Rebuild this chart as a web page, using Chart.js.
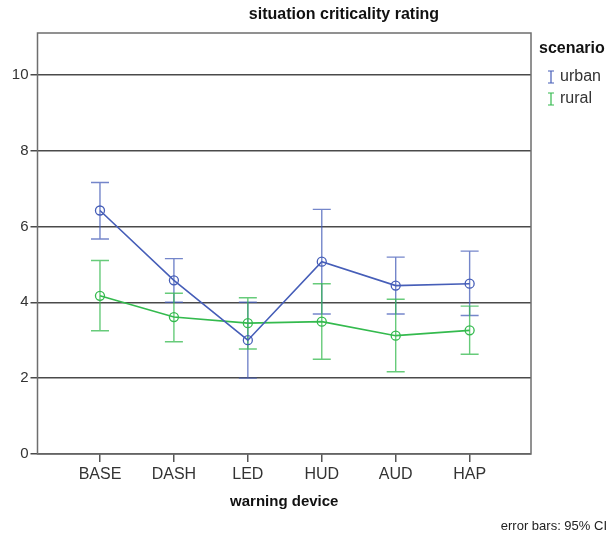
<!DOCTYPE html>
<html>
<head>
<meta charset="utf-8">
<script src="https://cdn.jsdelivr.net/npm/chart.js@4/dist/chart.umd.min.js"></script>
<style>
  html, body { margin: 0; padding: 0; background: #fff; }
</style>
</head>
<body>
<canvas id="chart" width="611" height="536"></canvas>
<script>
// warning device categories and the per-scenario means with 95% CI bounds
const devices = ['BASE', 'DASH', 'LED', 'HUD', 'AUD', 'HAP'];
const urbanMean = [6.42, 4.58, 3.00, 5.07, 4.44, 4.49];
const urbanLow  = [5.67, 4.00, 2.00, 3.69, 3.69, 3.65];
const urbanHigh = [7.16, 5.15, 4.00, 6.45, 5.19, 5.35];
const ruralMean = [4.17, 3.61, 3.45, 3.49, 3.12, 3.26];
const ruralLow  = [3.25, 2.96, 2.77, 2.50, 2.17, 2.63];
const ruralHigh = [5.10, 4.24, 4.12, 4.49, 4.08, 3.90];
const yTicks = [0, 2, 4, 6, 8, 10];

const FONT = '"Liberation Sans", Arial, sans-serif';
const URBAN = 'rgb(70, 94, 184)';
const RURAL = 'rgb(52, 186, 78)';
const URBAN_BAR = 'rgba(70, 94, 184, 0.75)';
const RURAL_BAR = 'rgba(52, 186, 78, 0.75)';

const series = [
  { name: 'urban', mean: urbanMean, low: urbanLow, high: urbanHigh, color: URBAN, bar: URBAN_BAR },
  { name: 'rural', mean: ruralMean, low: ruralLow, high: ruralHigh, color: RURAL, bar: RURAL_BAR }
];

function errorGlyph(ctx, x, y, h, w, color) {
  ctx.strokeStyle = color;
  ctx.lineWidth = 1.2;
  ctx.beginPath();
  ctx.moveTo(x, y - h / 2); ctx.lineTo(x, y + h / 2);
  ctx.moveTo(x - w / 2, y - h / 2); ctx.lineTo(x + w / 2, y - h / 2);
  ctx.moveTo(x - w / 2, y + h / 2); ctx.lineTo(x + w / 2, y + h / 2);
  ctx.stroke();
}

// frame + CI whiskers under the mean lines
const errorBars = {
  id: 'errorBars',
  beforeDatasetsDraw(chart) {
    const { ctx, chartArea: a, scales: { x, y } } = chart;
    ctx.save();
    ctx.strokeStyle = '#6e6e6e';
    ctx.lineWidth = 1.5;
    ctx.strokeRect(a.left, a.top, a.right - a.left, a.bottom - a.top);
    series.forEach(s => {
      ctx.strokeStyle = s.bar;
      ctx.lineWidth = 1.4;
      s.mean.forEach((m, i) => {
        const px = x.getPixelForValue(i);
        const lo = y.getPixelForValue(s.low[i]);
        const hi = y.getPixelForValue(s.high[i]);
        ctx.beginPath();
        ctx.moveTo(px, lo); ctx.lineTo(px, hi);
        ctx.moveTo(px - 9, lo); ctx.lineTo(px + 9, lo);
        ctx.moveTo(px - 9, hi); ctx.lineTo(px + 9, hi);
        ctx.stroke();
      });
    });
    ctx.restore();
  },
  afterDraw(chart) {
    const { ctx, chartArea: a } = chart;
    ctx.save();
    ctx.fillStyle = '#111';
    ctx.textBaseline = 'middle';
    ctx.textAlign = 'center';
    ctx.font = 'bold 16px ' + FONT;
    ctx.fillText('situation criticality rating', 344, 15);
    ctx.font = 'bold 15px ' + FONT;
    ctx.fillText('warning device', (a.left + a.right) / 2, 502);

    ctx.textAlign = 'left';
    ctx.font = 'bold 16px ' + FONT;
    ctx.fillText('scenario', 539, 49);
    ctx.font = '16px ' + FONT;
    ctx.fillStyle = '#333';
    series.forEach((s, k) => {
      const yy = 77 + k * 22;
      errorGlyph(ctx, 551, yy, 12, 6, s.color);
      ctx.fillText(s.name, 560, yy);
    });

    ctx.textAlign = 'right';
    ctx.font = '13px ' + FONT;
    ctx.fillStyle = '#222';
    ctx.fillText('error bars: 95% CI', 607, 526);
    ctx.restore();
  }
};

new Chart(document.getElementById('chart'), {
  type: 'line',
  data: {
    datasets: series.map(s => ({
      label: s.name,
      data: s.mean.map((v, i) => ({ x: i, y: v })),
      borderColor: s.color,
      borderWidth: 1.6,
      pointStyle: 'circle',
      pointRadius: 4.5,
      pointBorderWidth: 1.3,
      pointBorderColor: s.color,
      pointBackgroundColor: 'rgba(0,0,0,0)',
      tension: 0
    }))
  },
  options: {
    responsive: false,
    animation: false,
    devicePixelRatio: 1,
    layout: { padding: { top: 33, right: 80, left: 0, bottom: 0 } },
    plugins: { legend: { display: false }, tooltip: { enabled: false } },
    scales: {
      x: {
        type: 'linear',
        min: -0.845,
        max: 5.83,
        afterBuildTicks: s => { s.ticks = devices.map((d, i) => ({ value: i })); },
        afterFit: s => { s.height = 82; },
        border: { display: false },
        grid: { drawOnChartArea: false, tickLength: 8, color: '#555', lineWidth: 1.5 },
        ticks: {
          autoSkip: false, maxRotation: 0, padding: 3,
          color: '#333', font: { family: FONT, size: 16 },
          callback: v => devices[v]
        }
      },
      y: {
        min: 0,
        max: 11.1,
        afterBuildTicks: s => { s.ticks = yTicks.map(v => ({ value: v })); },
        afterFit: s => { s.width = 37.5; },
        border: { display: false },
        grid: { color: '#4a4a4a', lineWidth: 1.5, tickLength: 7 },
        ticks: { padding: 2, color: '#333', font: { family: FONT, size: 15 } }
      }
    }
  },
  plugins: [errorBars]
});
</script>
</body>
</html>
